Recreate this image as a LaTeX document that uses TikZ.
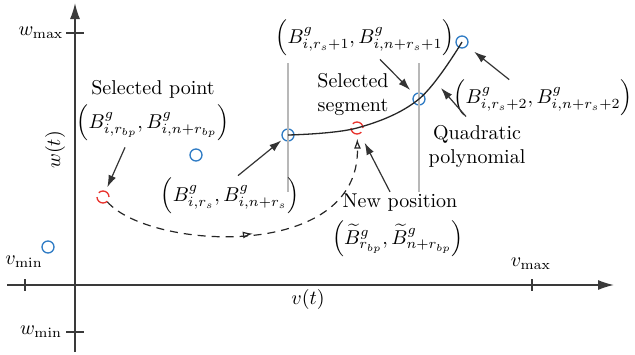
\documentclass[tikz,border=0pt]{standalone}
\usepackage{amsmath,amssymb}
\usetikzlibrary{arrows.meta, positioning, calc, decorations.markings}
\definecolor{cPoint}{HTML}{2E7BC4}
\definecolor{cMoved}{HTML}{E8322C}
\definecolor{cAxis}{HTML}{3A3A3A}
\definecolor{cGuide}{HTML}{B8B8B8}
\tikzset{
  axis/.style={-{Latex[length=8pt, width=5pt]}, line width=0.75pt, draw=cAxis},
  axistick/.style={line width=0.6pt, draw=cAxis},
  ctrlpt/.style={circle, draw=cPoint, line width=0.65pt, minimum size=6pt,
    inner sep=0pt},
  movedpt/.style={ctrlpt, draw=cMoved, dash pattern=on 7pt off 2.4pt},
  guide/.style={line width=0.6pt, draw=cGuide},
  polycurve/.style={line width=0.65pt, draw=black!85},
  note/.style={-{Latex[length=6pt, width=4pt]}, line width=0.6pt, draw=black!80},
  moveflow/.style={-{Latex[open, length=5pt, width=3.5pt]}, line width=0.6pt,
    draw=black!85, dash pattern=on 4pt off 3pt,
    postaction={decorate, decoration={markings,
      mark=at position 0.49 with {\arrow{Latex[open, length=5pt, width=3.5pt]}}}}},
  pairlabel/.style={inner sep=0pt},
  textlabel/.style={align=center, inner sep=1pt},
}
\newcommand{\pairof}[2]{\Bigl(#1, #2\Bigr)}

\begin{document}
\begin{tikzpicture}[x=0.5pt, y=-0.5pt]
  \useasboundingbox (0,0) rectangle (635,354);

  % ----------------------------------------------------------------
  % Axes, ticks and bounds
  % ----------------------------------------------------------------
  \coordinate (vleft) at (7,285);
  \coordinate (vright) at (614,285);
  \coordinate (wbottom) at (75,352);
  \coordinate (wtop) at (75,3);
  \draw[axis] (vleft) -- (vright);
  \draw[axis] (wbottom) -- (wtop);

  \draw[axistick] (66,33) -- (84,33);
  \draw[axistick] (66,332) -- (84,332);
  \draw[axistick] (25,279) -- (25,291);
  \draw[axistick] (532,279) -- (532,291);

  \node (wmax) at (41,33) {$w_{\max}$};
  \node (wmin) at (41,332) {$w_{\min}$};
  \node (vmin) at (24,262) {$v_{\min}$};
  \node (vmax) at (531,264) {$v_{\max}$};
  \node (vlabel) at (308,299) {$v(t)$};
  \node[rotate=90] (wlabel) at (55,150) {$w(t)$};

  % ----------------------------------------------------------------
  % Control points and selected segment
  % ----------------------------------------------------------------
  \node[ctrlpt] (p0) at (48,247) {};
  \node[ctrlpt] (p1) at (196,155) {};
  \node[ctrlpt] (prs) at (288,135) {};
  \node[ctrlpt] (prs1) at (419,99) {};
  \node[ctrlpt] (prs2) at (462,42) {};
  \node[movedpt] (oldpt) at (103,197) {};
  \node[movedpt] (newpt) at (357,128) {};

  \draw[guide] ($(prs)+(0,-72)$) -- ($(prs)+(0,57)$);
  \draw[guide] ($(prs1)+(0,-36)$) -- ($(prs1)+(0,93)$);

  \draw[polycurve] plot[smooth, tension=0.6]
    coordinates {(prs.center) (newpt.center) (prs1.center) (prs2.center)};

  % ----------------------------------------------------------------
  % Labels
  % ----------------------------------------------------------------
  \node[pairlabel] (oldpair) at (153,123)
    {$\pairof{B^g_{i,r_{bp}}}{B^g_{i,n+r_{bp}}}$};
  \node[textlabel, above=2pt of oldpair] (oldtext) {Selected point};
  \node[pairlabel] (rspair) at (230,196)
    {$\pairof{B^g_{i,r_s}}{B^g_{i,n+r_s}}$};
  \node[pairlabel] (rs1pair) at (365,38)
    {$\pairof{B^g_{i,r_s+1}}{B^g_{i,n+r_s+1}}$};
  \node[pairlabel, anchor=east] (rs2pair) at (633,98)
    {$\pairof{B^g_{i,r_s+2}}{B^g_{i,n+r_s+2}}$};
  \node[textlabel] (segtext) at (353,95) {Selected\\segment};
  \node[textlabel] (quadtext) at (477,146) {Quadratic\\polynomial};
  \node[textlabel] (newtext) at (400,203) {New position};
  \node[pairlabel] (newpair) at (398,239)
    {$\pairof{\widetilde{B}^g_{r_{bp}}}{\widetilde{B}^g_{n+r_{bp}}}$};

  % ----------------------------------------------------------------
  % Pointers and move
  % ----------------------------------------------------------------
  \coordinate (quadpt) at (441,88);
  \draw[note, shorten >=2pt] ($(oldpair.south)+(-28,6)$) -- (oldpt);
  \draw[note, shorten >=1pt] ($(rspair.north)+(8,-2)$) -- (prs);
  \draw[note, shorten >=3pt] ($(rs1pair.south)+(15,3)$) -- (prs1);
  \draw[note, shorten >=4.5pt] ($(rs2pair.north)+(-34,0)$) -- (prs2);
  \draw[note] ($(quadtext.north)+(-11,-6)$) -- (quadpt);
  \draw[note, shorten >=5pt] ($(newtext.north)+(-10,0)$) -- (newpt);

  \draw[moveflow, shorten >=2pt] (oldpt) .. controls (150,250) and (360,262) .. (newpt);

\end{tikzpicture}
\end{document}
